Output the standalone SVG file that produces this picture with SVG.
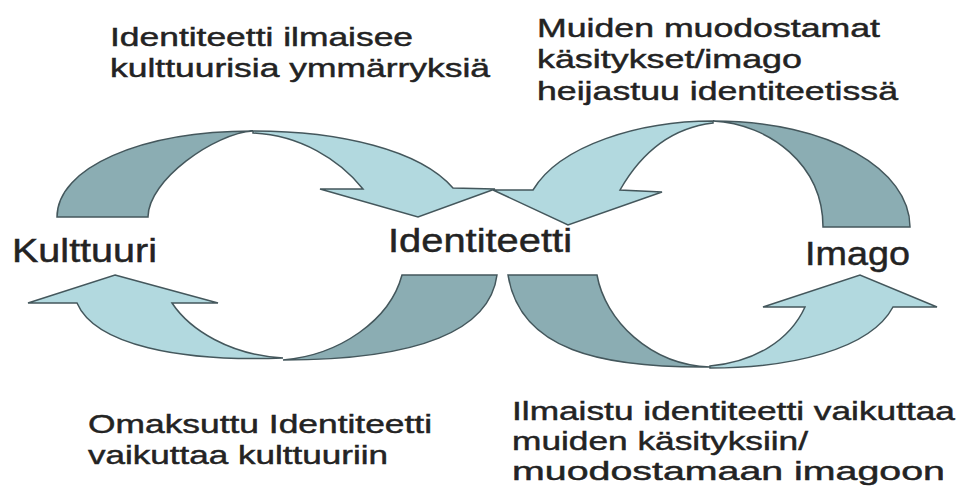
<svg xmlns="http://www.w3.org/2000/svg" width="960" height="502" viewBox="0 0 960 502">
<style>
.dark{fill:#8badb3;stroke:#44575c;stroke-width:1.5;stroke-linejoin:miter}
.light{fill:#b2d9df;stroke:#44575c;stroke-width:1.5;stroke-linejoin:miter}
text{font-family:"Liberation Sans",Arial,sans-serif;fill:#232323;stroke:#232323;stroke-width:0.45}
.p{font-size:26px}
.lbl{font-size:33px}
</style>
<rect width="960" height="502" fill="#ffffff"/>
<g id="connectors">
  <g id="arrow-kulttuuri-identiteetti">
    <path class="dark" d="M57,217 C57,168 140,131 253,131 C215,133 148,180 148,217 Z"/>
    <path class="light" d="M253,131 C340,131 420,150 453,188 L495,189 L418,217 L320,189 L363,189 C340,160 300,135 253,133 Z"/>
  </g>
  <g id="arrow-imago-identiteetti">
    <path class="dark" d="M910,227 C910,170 830,121 713,121 C770,124 823,165 823,227 Z"/>
    <path class="light" d="M713,121 C640,121 560,145 533,190 L493,190 L568,225 L662,192 L620,190 C640,155 670,128 713,123 Z"/>
  </g>
  <g id="arrow-identiteetti-kulttuuri">
    <path class="dark" d="M283,360 C340,355 390,320 402,275 L497,275 C490,330 420,360 283,360 Z"/>
    <path class="light" d="M115,275 L218,303 L172,303 C190,330 230,355 283,358 C180,362 95,345 77,303 L28,303 Z"/>
  </g>
  <g id="arrow-identiteetti-imago">
    <path class="dark" d="M508,275 L597,275 C605,320 650,365 710,367 C600,368 520,350 508,275 Z"/>
    <path class="light" d="M710,368 C790,368 870,350 893,307 L937,307 L860,275 L763,307 L805,307 C790,340 755,362 710,366 Z"/>
  </g>
</g>
<g id="node-kulttuuri"><text class="lbl" x="12" y="262" textLength="145" lengthAdjust="spacingAndGlyphs">Kulttuuri</text></g>
<g id="node-identiteetti"><text class="lbl" x="388" y="252" textLength="184" lengthAdjust="spacingAndGlyphs">Identiteetti</text></g>
<g id="node-imago"><text class="lbl" x="805" y="265" textLength="105" lengthAdjust="spacingAndGlyphs">Imago</text></g>
<g id="label-top-left">
  <text class="p" x="110" y="46" textLength="303" lengthAdjust="spacingAndGlyphs">Identiteetti ilmaisee</text>
  <text class="p" x="110" y="77" textLength="380" lengthAdjust="spacingAndGlyphs">kulttuurisia ymmärryksiä</text>
</g>
<g id="label-top-right">
  <text class="p" x="537" y="37" textLength="343" lengthAdjust="spacingAndGlyphs">Muiden muodostamat</text>
  <text class="p" x="537" y="68" textLength="265" lengthAdjust="spacingAndGlyphs">käsitykset/imago</text>
  <text class="p" x="537" y="100" textLength="361" lengthAdjust="spacingAndGlyphs">heijastuu identiteetissä</text>
</g>
<g id="label-bottom-left">
  <text class="p" x="88" y="433" textLength="344" lengthAdjust="spacingAndGlyphs">Omaksuttu Identiteetti</text>
  <text class="p" x="88" y="464" textLength="300" lengthAdjust="spacingAndGlyphs">vaikuttaa kulttuuriin</text>
</g>
<g id="label-bottom-right">
  <text class="p" x="512" y="420" textLength="443" lengthAdjust="spacingAndGlyphs">Ilmaistu identiteetti vaikuttaa</text>
  <text class="p" x="512" y="450" textLength="296" lengthAdjust="spacingAndGlyphs">muiden käsityksiin/</text>
  <text class="p" x="512" y="480" textLength="433" lengthAdjust="spacingAndGlyphs">muodostamaan imagoon</text>
</g>
</svg>
